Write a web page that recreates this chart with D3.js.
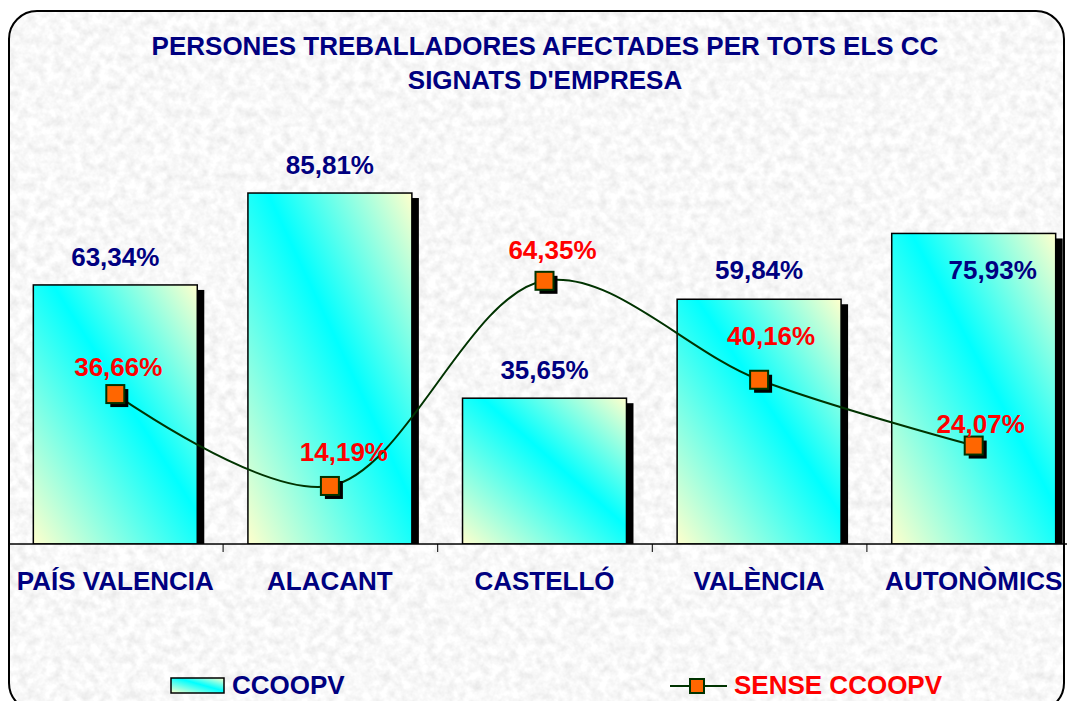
<!DOCTYPE html>
<html>
<head>
<meta charset="utf-8">
<script src="https://cdn.jsdelivr.net/npm/d3@7"></script>
<style>
  body { margin: 0; background: #fff; }
  svg { display: block; font-family: "Liberation Sans", Arial, sans-serif; font-weight: bold; }
</style>
</head>
<body>
<svg id="chart" width="1067" height="701"></svg>
<script>
const titleLines = ["PERSONES TREBALLADORES AFECTADES PER TOTS ELS CC", "SIGNATS D'EMPRESA"];
const categories = ["PAÍS VALENCIA", "ALACANT", "CASTELLÓ", "VALÈNCIA", "AUTONÒMICS"];
const ccoopv = [63.34, 85.81, 35.65, 59.84, 75.93];
const senseCcoopv = [36.66, 14.19, 64.35, 40.16, 24.07];
const seriesNames = ["CCOOPV", "SENSE CCOOPV"];

const navy = "#000080", red = "#ff0000", lineGreen = "#003300", orange = "#ff6600";
const fs = 26;
const fmt = v => v.toFixed(2).replace(".", ",") + "%";

const svg = d3.select("#chart");
const defs = svg.append("defs");

// marble-ish background texture
const f = defs.append("filter").attr("id", "marble")
  .attr("x", 0).attr("y", 0).attr("width", 1).attr("height", 1);
f.append("feTurbulence").attr("type", "fractalNoise")
  .attr("baseFrequency", 0.11).attr("numOctaves", 3).attr("seed", 7).attr("result", "noise");
f.append("feColorMatrix").attr("in", "noise").attr("type", "matrix")
  .attr("values", "0.32 0 0 0 0.78  0.32 0 0 0 0.78  0.32 0 0 0 0.78  0 0 0 0 1")
  .attr("result", "grey");
f.append("feComposite").attr("in", "grey").attr("in2", "SourceGraphic").attr("operator", "in");

const grad = defs.append("linearGradient").attr("id", "barGrad")
  .attr("x1", 0).attr("y1", 1).attr("x2", 1).attr("y2", 0);
grad.append("stop").attr("offset", 0).attr("stop-color", "#ffffcc");
grad.append("stop").attr("offset", 0.56).attr("stop-color", "#00ffff");
grad.append("stop").attr("offset", 1).attr("stop-color", "#ffffcc");

svg.append("rect")
  .attr("x", 9).attr("y", 11).attr("width", 1055).attr("height", 700)
  .attr("rx", 28).attr("ry", 28)
  .attr("fill", "#eeeeee").attr("filter", "url(#marble)");

// scales
const x = d3.scaleBand().domain(categories).range([8, 1081]).paddingInner(0.236).paddingOuter(0.118);
const y = d3.scaleLinear().domain([0, 100]).range([544, 135]);
const bw = x.bandwidth();

defs.append("clipPath").attr("id", "plotClip")
  .append("rect").attr("x", 0).attr("y", 0).attr("width", 1067).attr("height", y(0));

// title
svg.append("g").selectAll("text")
  .data(titleLines)
  .join("text")
  .attr("x", 545)
  .attr("y", (d, i) => 55 + i * 34)
  .attr("text-anchor", "middle")
  .attr("font-size", fs)
  .attr("fill", navy)
  .text(d => d);

// bars
const bars = svg.append("g").attr("clip-path", "url(#plotClip)");
bars.selectAll(".shadow")
  .data(ccoopv)
  .join("rect")
  .attr("class", "shadow")
  .attr("x", (d, i) => x(categories[i]) + 7)
  .attr("y", d => y(d) + 5)
  .attr("width", bw)
  .attr("height", d => y(0) - y(d))
  .attr("fill", "#000");
bars.selectAll(".bar")
  .data(ccoopv)
  .join("rect")
  .attr("class", "bar")
  .attr("x", (d, i) => x(categories[i]))
  .attr("y", d => y(d))
  .attr("width", bw)
  .attr("height", d => y(0) - y(d))
  .attr("fill", "url(#barGrad)")
  .attr("stroke", "#000")
  .attr("stroke-width", 1.5);

// axis with ticks at category boundaries
const xb = d3.scaleLinear().domain([0, categories.length]).range([8, 1081]);
const axis = svg.append("g")
  .attr("transform", `translate(0,${y(0)})`)
  .call(d3.axisBottom(xb).ticks(categories.length).tickFormat("").tickSize(8).tickSizeOuter(0));
axis.select(".domain").attr("stroke", "#000").attr("stroke-width", 1.5)
  .attr("d", `M9.5,0H1067`);
axis.selectAll(".tick line").attr("stroke", "#000");

const catAxis = svg.append("g")
  .attr("transform", `translate(0,${y(0)})`)
  .call(d3.axisBottom(x).tickSize(0).tickPadding(28));
catAxis.select(".domain").remove();
catAxis.selectAll("text")
  .attr("font-size", fs).attr("font-family", "Liberation Sans, Arial, sans-serif")
  .attr("font-weight", "bold").attr("fill", navy);

// bar value labels
const barLabelOff = [[0, -19], [0, -19], [0, -19], [0, -20], [19, 46]];
svg.append("g").selectAll("text")
  .data(ccoopv)
  .join("text")
  .attr("x", (d, i) => x(categories[i]) + bw / 2 + barLabelOff[i][0])
  .attr("y", (d, i) => y(d) + barLabelOff[i][1])
  .attr("text-anchor", "middle")
  .attr("font-size", fs)
  .attr("fill", navy)
  .text(fmt);

// smoothed line
const cx = (d, i) => x(categories[i]) + bw / 2;
const line = d3.line().x(cx).y(d => y(d)).curve(d3.curveCatmullRom.alpha(0.5));
svg.append("path")
  .datum(senseCcoopv)
  .attr("fill", "none")
  .attr("stroke", lineGreen)
  .attr("stroke-width", 2)
  .attr("d", line);

const ms = 18;
const markers = svg.append("g");
markers.selectAll(".mshadow")
  .data(senseCcoopv)
  .join("rect")
  .attr("class", "mshadow")
  .attr("x", (d, i) => cx(d, i) - ms / 2 + 4)
  .attr("y", d => y(d) - ms / 2 + 4)
  .attr("width", ms).attr("height", ms)
  .attr("fill", "#000");
markers.selectAll(".marker")
  .data(senseCcoopv)
  .join("rect")
  .attr("class", "marker")
  .attr("x", (d, i) => cx(d, i) - ms / 2)
  .attr("y", d => y(d) - ms / 2)
  .attr("width", ms).attr("height", ms)
  .attr("fill", orange)
  .attr("stroke", lineGreen)
  .attr("stroke-width", 2);

const lineLabelOff = [[3, -18], [14, -25], [8, -22], [12, -35], [7, -13]];
svg.append("g").selectAll("text")
  .data(senseCcoopv)
  .join("text")
  .attr("x", (d, i) => cx(d, i) + lineLabelOff[i][0])
  .attr("y", (d, i) => y(d) + lineLabelOff[i][1])
  .attr("text-anchor", "middle")
  .attr("font-size", fs)
  .attr("fill", red)
  .text(fmt);

// legend
const leg = svg.append("g");
leg.append("rect")
  .attr("x", 171).attr("y", 678).attr("width", 53).attr("height", 15)
  .attr("fill", "url(#barGrad)").attr("stroke", "#000").attr("stroke-width", 1.5);
leg.append("text").attr("x", 232).attr("y", 694)
  .attr("font-size", fs).attr("fill", navy).text(seriesNames[0]);
leg.append("line").attr("x1", 670).attr("x2", 727).attr("y1", 686).attr("y2", 686)
  .attr("stroke", lineGreen).attr("stroke-width", 2);
leg.append("rect").attr("x", 690).attr("y", 679).attr("width", 14).attr("height", 14)
  .attr("fill", orange).attr("stroke", lineGreen).attr("stroke-width", 2);
leg.append("text").attr("x", 734).attr("y", 694)
  .attr("font-size", fs).attr("fill", red).text(seriesNames[1]);

// border on top
svg.append("rect")
  .attr("x", 9).attr("y", 11).attr("width", 1055).attr("height", 700)
  .attr("rx", 28).attr("ry", 28)
  .attr("fill", "none").attr("stroke", "#000").attr("stroke-width", 2);
</script>
</body>
</html>
